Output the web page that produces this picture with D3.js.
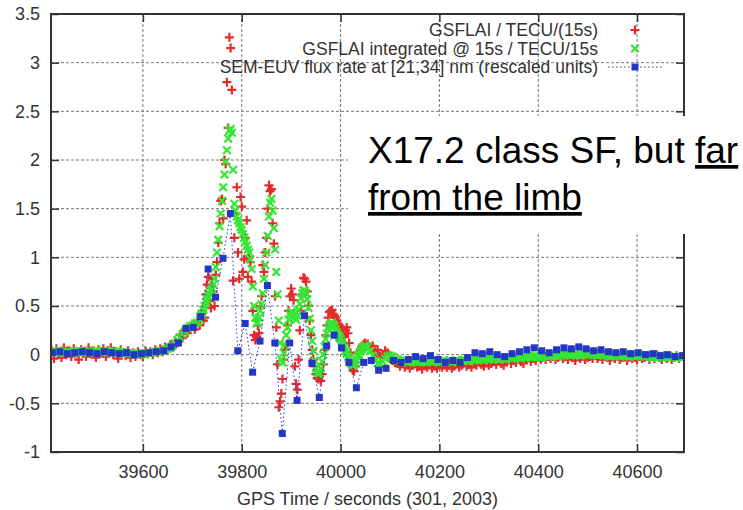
<!DOCTYPE html>
<html>
<head>
<meta charset="utf-8">
<script src="https://cdn.jsdelivr.net/npm/d3@7"></script>
<style>
  html, body { margin: 0; padding: 0; background: #fff; }
  svg { display: block; font-family: "Liberation Sans", Arial, sans-serif; }
</style>
</head>
<body>
<div id="chart"></div>
<script>
const xTicks = [39600, 39800, 40000, 40200, 40400, 40600];
const yTicks = [-1, -0.5, 0, 0.5, 1, 1.5, 2, 2.5, 3, 3.5];
const yTickLabels = ["-1", "-0.5", "0", "0.5", "1", "1.5", "2", "2.5", "3", "3.5"];
const legendLabels = [
  "GSFLAI / TECU/(15s)",
  "GSFLAI integrated @ 15s / TECU/15s",
  "SEM-EUV flux rate at [21,34] nm (rescaled units)"
];
const xTitle = "GPS Time / seconds (301, 2003)";
const noteLine1 = "X17.2 class SF, but ";
const noteLine1U = "far";
const noteLine2 = "from the limb";

// GSFLAI samples, one every 5 s starting at 39415
const gsflaiStart = 39415, gsflaiStep = 5;
const gsflaiRate = [
  0.05,-0.04,0.06,0.01,-0.03,0.07,0.00,0.04,-0.02,0.06,0.02,-0.05,0.05,0.03,-0.02,0.07,0.01,0.04,-0.03,0.05,
  0.02,0.06,-0.02,0.04,0.07,0.00,0.03,-0.04,0.05,0.02,-0.01,0.04,-0.03,0.02,-0.02,0.03,0.00,-0.02,0.04,0.01,
  0.03,0.00,0.05,0.02,0.06,0.03,0.08,0.05,0.10,0.08,0.14,0.12,0.20,0.17,0.25,0.22,0.27,0.31,0.26,0.34,
  0.30,0.45,0.38,0.72,0.55,0.78,0.50,0.95,1.35,1.60,2.00,2.80,3.26,2.72,1.20,1.72,0.78,1.52,0.98,1.38,
  1.00,0.75,0.20,0.18,0.22,0.60,0.85,1.20,1.74,1.70,1.14,0.28,-0.54,-0.40,-0.05,0.10,0.45,0.68,0.56,-0.30,
  -0.05,0.45,0.79,0.75,0.50,0.20,-0.05,-0.20,-0.25,-0.27,-0.10,0.20,0.38,0.45,0.42,0.38,0.32,0.28,0.20,0.25,
  0.22,0.02,-0.16,-0.12,-0.03,0.05,0.10,0.12,0.11,0.06,0.09,0.03,0.05,-0.02,0.00,0.04,0.02,-0.04,-0.06,-0.08,
  -0.09,-0.12,-0.08,-0.13,-0.10,-0.14,-0.11,-0.09,-0.13,-0.12,-0.15,-0.11,-0.13,-0.09,-0.14,-0.12,-0.14,-0.10,-0.13,-0.11,
  -0.13,-0.11,-0.14,-0.12,-0.09,-0.13,-0.11,-0.08,-0.12,-0.10,-0.13,-0.09,-0.11,-0.07,-0.10,-0.12,-0.08,-0.11,-0.09,-0.07,
  -0.10,-0.06,-0.09,-0.11,-0.07,-0.05,-0.09,-0.06,-0.08,-0.04,-0.07,-0.09,-0.05,-0.03,-0.07,-0.04,-0.06,-0.02,-0.05,-0.03,
  -0.05,-0.02,-0.04,-0.01,-0.05,-0.03,0.00,-0.04,-0.02,-0.05,-0.01,-0.03,-0.06,-0.02,-0.04,-0.01,-0.05,-0.03,-0.02,-0.04,
  -0.01,-0.04,-0.02,-0.05,0.00,-0.03,-0.06,-0.02,-0.04,-0.01,-0.05,-0.03,-0.02,-0.06,-0.01,-0.04,-0.03,-0.05,-0.02,-0.04,
  -0.03,-0.01,-0.05,-0.02,-0.04,0.00,-0.03,-0.05,-0.01,-0.04,-0.02,-0.05,-0.03,-0.01,-0.04,-0.02,-0.03
];
const gsflaiInt = [
  0.03,0.02,0.03,0.04,0.03,0.02,0.03,0.03,0.02,0.04,0.03,0.02,0.03,0.04,0.03,0.02,0.03,0.03,0.04,0.03,
  0.03,0.04,0.03,0.02,0.03,0.04,0.03,0.03,0.02,0.03,0.02,0.01,0.02,0.01,0.00,0.01,0.00,0.01,0.01,0.02,
  0.02,0.02,0.03,0.03,0.04,0.04,0.05,0.06,0.07,0.09,0.12,0.15,0.18,0.21,0.24,0.27,0.29,0.30,0.32,0.33,
  0.36,0.42,0.50,0.57,0.63,0.68,0.78,1.05,1.32,1.58,1.85,2.10,2.30,2.28,1.55,1.42,1.35,1.28,1.20,1.12,
  1.05,0.88,0.50,0.32,0.38,0.52,0.78,1.05,1.42,1.60,1.30,0.85,0.35,-0.05,0.02,0.20,0.36,0.44,0.40,0.36,
  0.46,0.58,0.66,0.63,0.48,0.25,0.04,-0.14,-0.20,-0.14,0.00,0.16,0.27,0.32,0.31,0.26,0.20,0.16,0.10,0.04,
  -0.02,-0.08,-0.11,-0.08,-0.02,0.03,0.07,0.09,0.08,0.04,-0.01,-0.06,-0.09,-0.10,-0.07,-0.04,-0.02,-0.01,-0.02,-0.04,
  -0.05,-0.06,-0.07,-0.06,-0.08,-0.07,-0.06,-0.07,-0.08,-0.07,-0.06,-0.07,-0.08,-0.06,-0.07,-0.06,-0.07,-0.08,-0.07,-0.06,
  -0.07,-0.06,-0.08,-0.07,-0.06,-0.07,-0.06,-0.05,-0.06,-0.07,-0.05,-0.06,-0.05,-0.04,-0.05,-0.06,-0.04,-0.05,-0.04,-0.05,
  -0.04,-0.05,-0.03,-0.04,-0.05,-0.03,-0.04,-0.03,-0.02,-0.03,-0.04,-0.02,-0.03,-0.02,-0.03,-0.02,-0.01,-0.02,-0.03,-0.02,
  -0.01,-0.02,-0.01,0.00,-0.01,-0.02,-0.01,0.00,0.01,0.00,-0.01,0.00,0.01,0.00,-0.01,0.00,0.01,0.00,0.01,0.00,
  0.00,-0.01,0.00,0.01,0.00,-0.01,-0.02,-0.01,0.00,-0.01,-0.02,-0.01,0.00,-0.01,-0.02,-0.01,-0.02,-0.01,0.00,-0.01,
  -0.02,-0.01,-0.02,-0.03,-0.02,-0.01,-0.02,-0.03,-0.02,-0.01,-0.02,-0.03,-0.02,-0.03,-0.02,-0.03,-0.02
];

// the flare itself is denser in the picture: extra GSFLAI samples half way
// between the ones above, every 5 s starting at 39717.5
const flareStart = 39717.5, flareStep = 5;
const flareRate = [
  0.42,0.35,0.62,0.80,0.48,0.65,0.82,1.15,1.58,1.40,1.96,2.33,3.15,0.76,1.45,1.05,1.62,0.85,1.20,0.80,
  0.95,0.45,0.15,0.30,0.50,0.92,1.05,1.50,1.68,1.35,0.60,-0.10,-0.48,-0.25,0.05,0.30,0.60,0.62,-0.12,-0.36,
  0.25,0.62,0.78,0.65,0.35,0.05,-0.12,-0.24,-0.22,-0.20,0.05,0.30,0.44,0.46,0.40,0.35,0.30,0.26,0.18,0.28,
  0.12,-0.10,-0.17,-0.08,0.02,0.08,0.11
];
const flareInt = [
  0.40,0.46,0.54,0.60,0.66,0.72,0.90,1.18,1.45,1.72,1.98,2.22,2.32,1.90,1.48,1.38,1.31,1.24,1.16,1.08,
  0.98,0.70,0.38,0.33,0.45,0.63,0.92,1.22,1.56,1.48,1.08,0.62,0.12,-0.08,0.10,0.28,0.41,0.43,0.38,0.40,
  0.52,0.63,0.66,0.57,0.37,0.14,-0.06,-0.18,-0.18,-0.07,0.08,0.22,0.30,0.33,0.29,0.23,0.18,0.13,0.07,0.01,
  -0.05,-0.10,-0.10,-0.05,0.00,0.05,0.08
];

// SEM samples, one every 15 s starting at 39417
const semStart = 39417, semStep = 15;
const semFlux = [
  0.02,0.03,0.01,0.02,0.03,0.02,0.01,0.03,0.02,0.01,0.02,0.00,0.01,0.02,0.03,0.04,0.08,
  0.12,0.27,0.28,0.39,0.88,0.59,0.99,1.45,0.04,0.32,-0.18,0.14,0.71,0.12,-0.81,0.12,-0.47,0.40,-0.09,-0.44,
  0.09,0.20,0.07,-0.08,-0.34,-0.08,-0.06,-0.16,-0.14,-0.06,-0.08,
  -0.05,-0.02,-0.04,-0.01,-0.05,-0.08,-0.06,-0.08,-0.03,0.02,0.01,0.03,0.00,-0.02,0.01,0.03,0.05,0.07,0.04,
  0.02,0.05,0.07,0.06,0.08,0.06,0.04,0.05,0.03,0.02,0.03,0.01,0.02,0.00,0.01,-0.01,0.00,-0.02,-0.01
];

const colors = { rate: "#e62a2a", integ: "#35e635", sem: "#2436c8", text: "#333" };

const W = 743, H = 510;
const plot = { left: 51, top: 14, right: 684, bottom: 452 };

const x = d3.scaleLinear().domain([39414, 40695]).range([plot.left, plot.right]);
const y = d3.scaleLinear().domain([-1, 3.5]).range([plot.bottom, plot.top]);

const svg = d3.select("#chart").append("svg")
  .attr("width", W).attr("height", H)
  .style("background", "#fff");

// grid
const grid = svg.append("g")
  .attr("stroke", "#777").attr("stroke-width", 1).attr("stroke-dasharray", "3,2");
grid.selectAll(".gx").data(xTicks).join("line").attr("class", "gx")
  .attr("x1", d => x(d)).attr("x2", d => x(d))
  .attr("y1", plot.top).attr("y2", plot.bottom);
grid.selectAll(".gy").data(yTicks.slice(1, -1)).join("line").attr("class", "gy")
  .attr("x1", plot.left).attr("x2", plot.right)
  .attr("y1", d => y(d)).attr("y2", d => y(d));

// axes with inward ticks, mirrored on top and right
function styleAxis(g) {
  g.select(".domain").remove();
  g.selectAll(".tick line").attr("stroke", "#333").attr("stroke-width", 1.5);
  g.selectAll(".tick text").attr("fill", colors.text).style("font-size", "18px");
}
svg.append("g").attr("transform", `translate(0,${plot.bottom})`)
  .call(d3.axisBottom(x).tickValues(xTicks).tickFormat(d3.format("d")).tickSize(-8).tickPadding(13.5))
  .call(styleAxis);
svg.append("g").attr("transform", `translate(0,${plot.top})`)
  .call(d3.axisTop(x).tickValues(xTicks).tickFormat("").tickSize(-8))
  .call(styleAxis);
svg.append("g").attr("transform", `translate(${plot.left},0)`)
  .call(d3.axisLeft(y).tickValues(yTicks).tickFormat((d, i) => yTickLabels[i]).tickSize(-8).tickPadding(11))
  .call(styleAxis);
svg.append("g").attr("transform", `translate(${plot.right},0)`)
  .call(d3.axisRight(y).tickValues(yTicks).tickFormat("").tickSize(-8))
  .call(styleAxis);

svg.append("text")
  .attr("x", (plot.left + plot.right) / 2).attr("y", 504.5)
  .attr("text-anchor", "middle").attr("fill", colors.text)
  .style("font-size", "18px")
  .text(xTitle);

// legend (drawn before the data, as gnuplot does)
const legendX = 598, symX = 635, legendY = [30, 48.5, 67];
const legend = svg.append("g");
legend.selectAll("text").data(legendLabels).join("text")
  .attr("x", legendX).attr("y", (d, i) => legendY[i])
  .attr("dy", "0.36em").attr("text-anchor", "end")
  .attr("fill", colors.text).style("font-size", "17.5px")
  .text(d => d);

const plusPath = "M-4.5,0H4.5M0,-4.5V4.5";
const crossPath = "M-3.8,-3.8L3.8,3.8M-3.8,3.8L3.8,-3.8";

legend.append("path").attr("d", plusPath)
  .attr("transform", `translate(${symX},${legendY[0]})`)
  .attr("stroke", colors.rate).attr("stroke-width", 2.2);
legend.append("path").attr("d", crossPath)
  .attr("transform", `translate(${symX},${legendY[1]})`)
  .attr("stroke", colors.integ).attr("stroke-width", 2.2);
legend.append("line")
  .attr("x1", symX - 27).attr("x2", symX + 27).attr("y1", legendY[2]).attr("y2", legendY[2])
  .attr("stroke", colors.sem).attr("stroke-width", 1).attr("stroke-dasharray", "1.5,2.5");
legend.append("rect")
  .attr("x", symX - 3.5).attr("y", legendY[2] - 3.5).attr("width", 7).attr("height", 7)
  .attr("fill", colors.sem);

// data
svg.append("clipPath").attr("id", "plotClip").append("rect")
  .attr("x", plot.left).attr("y", plot.top)
  .attr("width", plot.right - plot.left).attr("height", plot.bottom - plot.top);
const data = svg.append("g").attr("clip-path", "url(#plotClip)");

const samples = (vals, t0, dt) => vals.map((v, i) => ({ t: t0 + i * dt, v }));
const ratePts = samples(gsflaiRate, gsflaiStart, gsflaiStep).concat(samples(flareRate, flareStart, flareStep));
const integPts = samples(gsflaiInt, gsflaiStart, gsflaiStep).concat(samples(flareInt, flareStart, flareStep));
const semPts = samples(semFlux, semStart, semStep);

data.append("g").selectAll("path").data(ratePts).join("path")
  .attr("d", plusPath)
  .attr("transform", d => `translate(${x(d.t)},${y(d.v)})`)
  .attr("stroke", colors.rate).attr("stroke-width", 2.2);

data.append("g").selectAll("path").data(integPts).join("path")
  .attr("d", crossPath)
  .attr("transform", d => `translate(${x(d.t)},${y(d.v)})`)
  .attr("stroke", colors.integ).attr("stroke-width", 2.2);

const semLine = d3.line().x(d => x(d.t)).y(d => y(d.v));
data.append("path").datum(semPts)
  .attr("d", semLine)
  .attr("fill", "none")
  .attr("stroke", colors.sem).attr("stroke-width", 1)
  .attr("stroke-dasharray", "1.5,2.5");

data.append("g").selectAll("rect").data(semPts).join("rect")
  .attr("x", d => x(d.t) - 3.5).attr("y", d => y(d.v) - 3.5)
  .attr("width", 7).attr("height", 7)
  .attr("fill", colors.sem);

// frame
svg.append("rect")
  .attr("x", plot.left).attr("y", plot.top)
  .attr("width", plot.right - plot.left).attr("height", plot.bottom - plot.top)
  .attr("fill", "none").attr("stroke", "#333").attr("stroke-width", 2);

// annotation pasted over the plot
svg.append("rect")
  .attr("x", 348).attr("y", 116).attr("width", W - 348).attr("height", 118)
  .attr("fill", "#fff");
const note1 = svg.append("text")
  .attr("x", 368).attr("y", 163)
  .attr("fill", "#000").style("font-size", "37px").style("white-space", "pre");
note1.append("tspan").text(noteLine1);
note1.append("tspan").attr("text-decoration", "underline").text(noteLine1U);
svg.append("text")
  .attr("x", 368).attr("y", 210)
  .attr("fill", "#000").style("font-size", "37px")
  .attr("text-decoration", "underline")
  .text(noteLine2);
</script>
</body>
</html>
